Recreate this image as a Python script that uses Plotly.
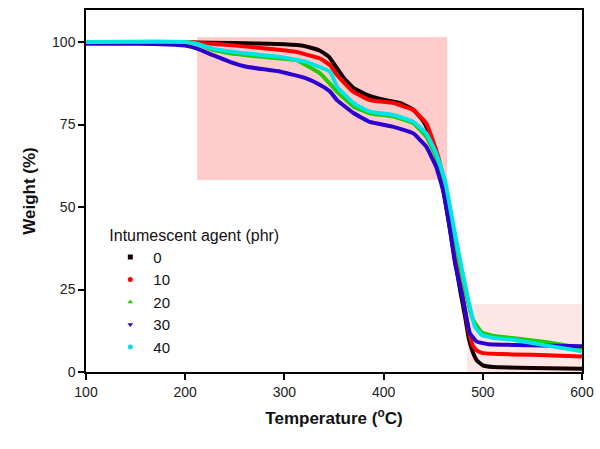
import plotly.graph_objects as go

# ---- data ----
series_names = ["0", "10", "20", "30", "40"]

t0 = [100, 150, 200, 250, 300, 320, 335, 345, 352, 360, 370, 383, 400, 417, 430, 440, 447, 452, 457, 462, 467, 472, 477, 482, 486, 490, 494, 500, 510, 550, 600]
w0 = [100, 100, 99.9, 99.7, 99.3, 98.8, 97.5, 95.5, 92.5, 89, 86, 84, 82.5, 81.5, 79.5, 76, 72, 67, 60, 52, 43, 34, 25, 17, 10, 6, 3.5, 2.0, 1.5, 1.2, 1.0]

t10 = [100, 200, 212, 240, 262, 290, 312, 336, 346, 353, 369, 386, 410, 430, 443, 453, 460, 467, 472, 477, 482, 486, 490, 494, 499, 510, 550, 600]
w10 = [100, 100, 99.8, 99.2, 98.6, 97.8, 97, 95, 93, 90, 85, 82.4, 81.5, 79.4, 75.4, 67.3, 59, 47, 37, 28, 19, 12, 8, 6.5, 5.8, 5.5, 5.2, 4.7]

t20 = [100, 200, 212, 228, 245, 278, 312, 336, 353, 370, 386, 410, 430, 443, 453, 460, 467, 474, 480, 486, 490, 494, 499, 510, 532, 565, 600]
w20 = [100, 100, 99.5, 97.6, 96.6, 95.5, 94.5, 90.5, 85, 80.4, 78.4, 77.4, 75.4, 71.3, 65.2, 58, 47, 37, 28, 20, 16, 14, 12, 11, 10.2, 9, 7.3]

t30 = [100, 150, 190, 200, 212, 228, 245, 262, 296, 322, 336, 346, 353, 370, 386, 410, 430, 443, 453, 460, 466, 472, 480, 487, 494, 506, 532, 600]
w30 = [99.5, 99.5, 99.2, 98.9, 98, 96, 94, 92.5, 91, 89, 87, 85, 82.4, 78.4, 75.8, 74.3, 72.3, 68.3, 62.2, 55, 45, 33, 22, 11.7, 9.2, 8.4, 8.2, 7.8]

t40 = [100, 200, 212, 228, 262, 296, 322, 346, 353, 370, 386, 410, 430, 443, 453, 462, 470, 479, 486, 492, 499, 510, 532, 565, 600]
w40 = [100, 100, 99.4, 98, 96.5, 95.5, 94, 91, 86.5, 81.4, 78.9, 77.9, 75.8, 72.3, 66.3, 58, 45, 31, 21, 13.7, 11.2, 10.4, 9.7, 8, 6.3]

x_ticks = [100, 200, 300, 400, 500, 600]
y_ticks = [0, 25, 50, 75, 100]

temps = [t0, t10, t20, t30, t40]
weights = [w0, w10, w20, w30, w40]
colors = ["#120000", "#ff0000", "#22cc00", "#2a00d0", "#00e4e8"]
symbols = ["square", "circle", "triangle-up", "triangle-down", "circle"]

fig = go.Figure()

for t, w, c in zip(temps, weights, colors):
    fig.add_trace(go.Scatter(x=t, y=w, mode="lines", showlegend=False,
                             line=dict(color=c, width=4, shape="spline", smoothing=0.3),
                             hoverinfo="skip"))

for name, c, s in zip(series_names, colors, symbols):
    fig.add_trace(go.Scatter(x=[None], y=[None], mode="markers", name=name,
                             marker=dict(color=c, size=5, symbol=s)))

fig.add_shape(type="rect", xref="x", yref="y", x0=212, x1=464, y0=58.2, y1=101.5,
              fillcolor="#ffcccc", line=dict(width=0), layer="below")
fig.add_shape(type="rect", xref="x", yref="y", x0=484, x1=600, y0=0, y1=20.6,
              fillcolor="#fde6e6", line=dict(width=0), layer="below")

fig.update_layout(
    width=600, height=449,
    margin=dict(l=86, r=18, t=10, b=77, autoexpand=False),
    plot_bgcolor="white", paper_bgcolor="white",
    font=dict(family="Liberation Sans, Arial, sans-serif", color="#222"),
    legend=dict(x=0.043, y=0.42, xanchor="left", yanchor="top",
                bgcolor="rgba(0,0,0,0)", font=dict(size=15, color="#111"),
                title=dict(text="Intumescent agent (phr)", font=dict(size=16, color="#111")),
                itemwidth=36, tracegroupgap=0),
    xaxis=dict(range=[100, 600], tickvals=x_ticks, ticks="outside", ticklen=6,
               tickwidth=1.5, tickcolor="black", showline=True, linecolor="black",
               linewidth=1.5, mirror=True, showgrid=False, zeroline=False,
               automargin=False,
               tickfont=dict(size=14, color="#222"),
               title=dict(text="<b>Temperature (<sup>o</sup>C)</b>", font=dict(size=17, color="#111"),
                          standoff=14)),
    yaxis=dict(range=[0, 109.7], tickvals=y_ticks, ticks="outside", ticklen=6,
               tickwidth=1.5, tickcolor="black", showline=True, linecolor="black",
               linewidth=1.5, mirror=True, showgrid=False, zeroline=False,
               automargin=False,
               tickfont=dict(size=14, color="#222"),
               title=dict(text="<b>Weight (%)</b>", font=dict(size=17, color="#111"),
                          standoff=12)),
)

# remove the default 8px page margin so the figure fills the 600x449 window
fig.write_html("out.html", config={"displayModeBar": False},
               post_script="document.body.style.margin='0';document.body.style.overflow='hidden';")
